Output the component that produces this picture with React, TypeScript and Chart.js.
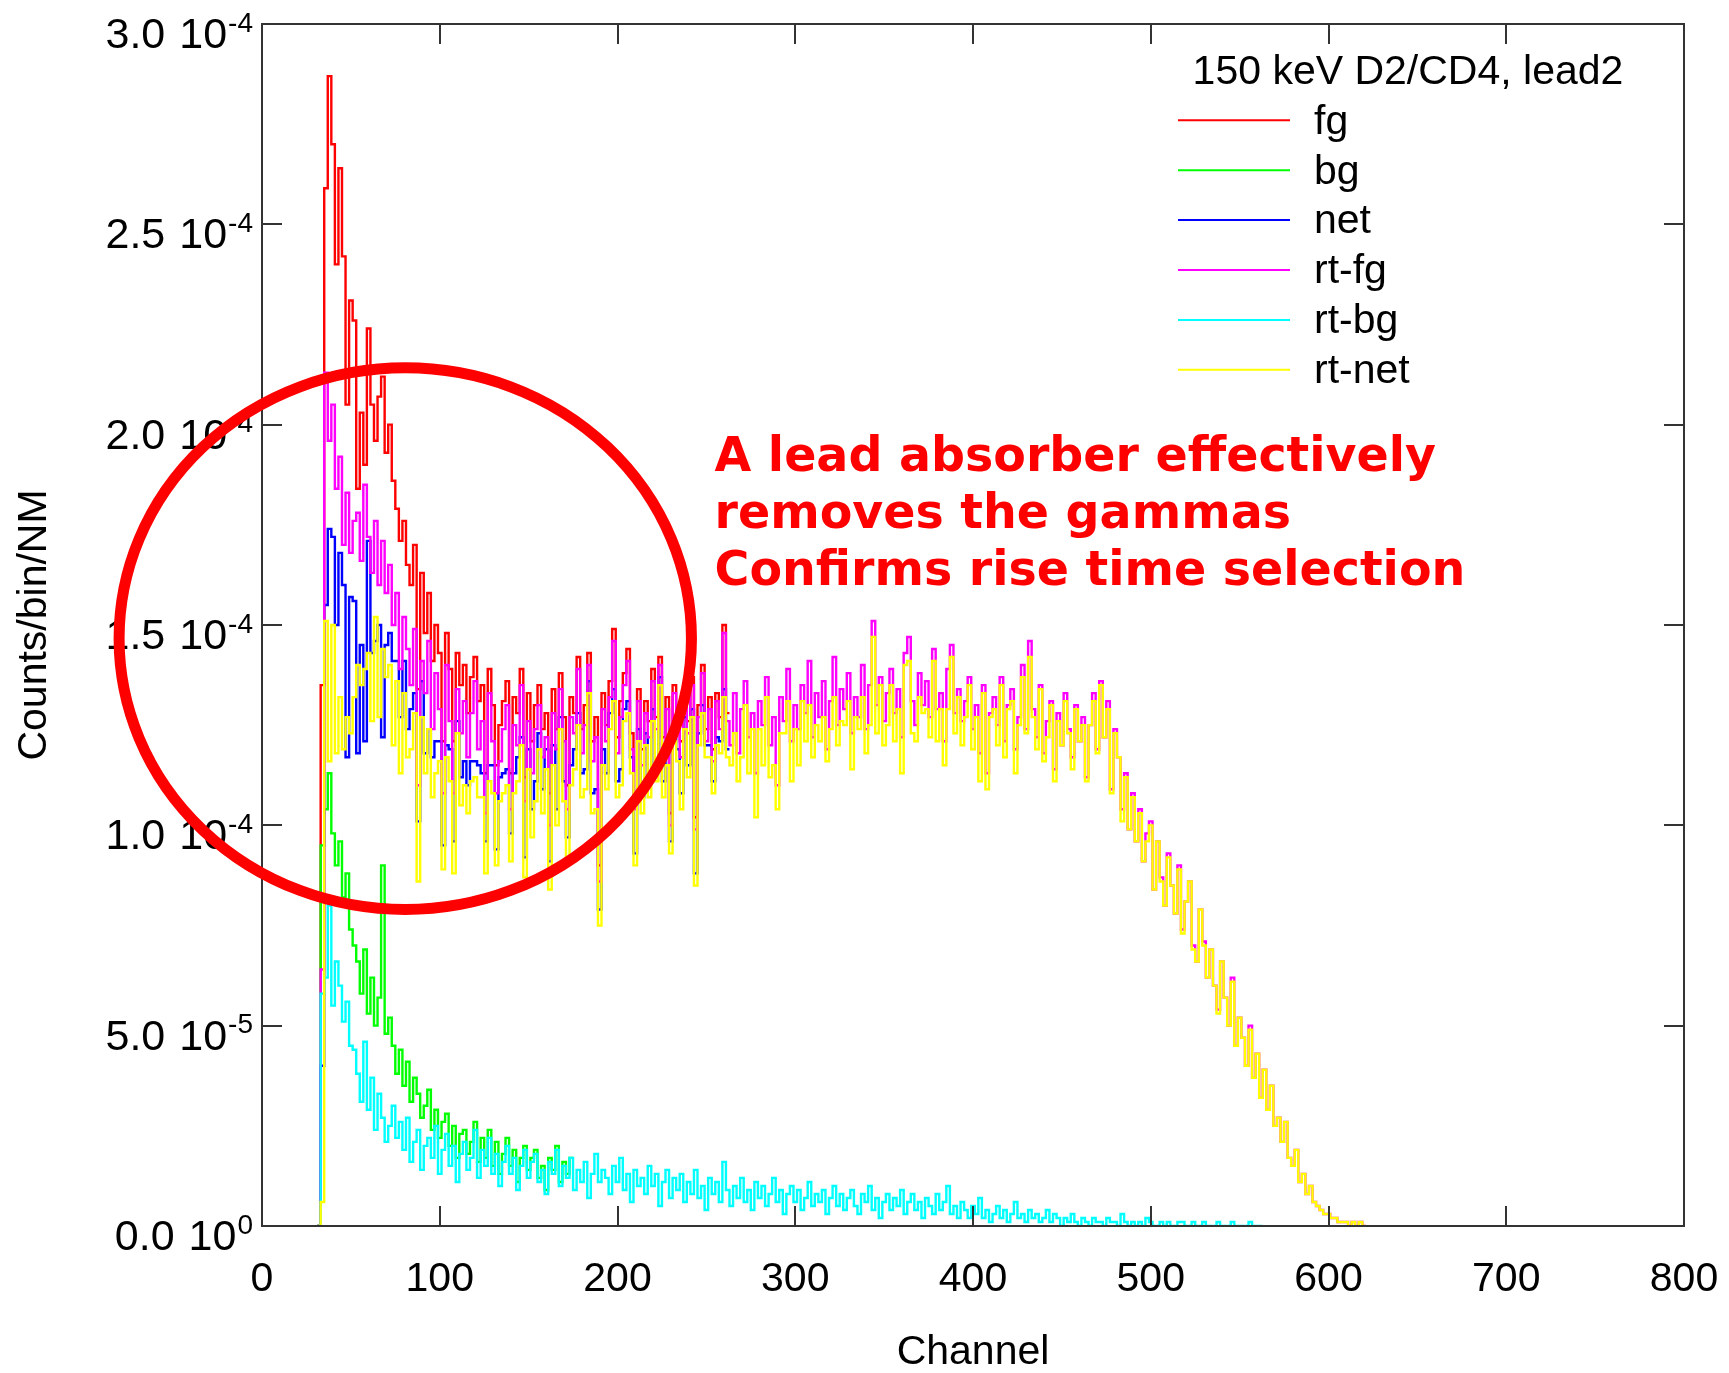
import { useEffect, useRef } from "react";
import { Chart, registerables } from "chart.js";

Chart.register(...registerables);

// Histogram binning (channels): first bin left edge and bin width
const BIN_START = 31;
const BIN_WIDTH = 2;
const UNIT = 1e-6; // values below are in units of 1e-6 counts/bin/NM

// fg (red)
const FG = [0,
  135, 259, 287, 270, 240, 264, 242, 205, 231, 226,
  184, 203, 190, 224, 205, 196, 207, 212, 193, 200,
  186, 179, 171, 176, 165, 160, 170, 134, 163, 148,
  158, 141, 150, 143, 121, 148, 139, 121, 143, 135,
  140, 128, 137, 142, 131, 135, 113, 139, 130, 115,
  125, 131, 136, 113, 132, 128, 139, 112, 133, 121,
  130, 135, 124, 128, 108, 134, 124, 138, 127, 110,
  132, 128, 142, 124, 130, 143, 121, 127, 90, 133,
  125, 136, 149, 122, 131, 138, 144, 123, 107, 134,
  119, 131, 126, 139, 127, 142, 122, 132, 103, 135,
  128, 121, 133, 126, 137, 102, 130, 140, 124, 132,
  119, 133, 127, 150, 128];

// bg (green)
const BG = [0,
  95, 104, 113, 98, 90, 96, 82, 88, 74, 70,
  66, 58, 69, 53, 62, 50, 57, 90, 48, 52,
  45, 38, 44, 35, 41, 31, 37, 33, 27, 30,
  34, 24, 29, 22, 26, 28, 20, 25, 17, 23,
  24, 18, 21, 26, 16, 22, 17, 24, 15, 21,
  13, 18, 22, 15, 19, 11, 17, 20, 14, 17,
  19, 12, 15, 9, 17, 14, 20, 11, 16, 13,
  17];

// net (blue)
const NET = [0,
  40, 155, 174, 172, 150, 168, 160, 117, 157, 156,
  118, 145, 121, 171, 143, 146, 150, 122, 145, 148,
  141, 141, 127, 141, 124, 129, 133, 101, 136, 118,
  124, 117, 121, 121, 95, 120, 119, 96, 126, 112,
  116, 110, 116, 116, 115, 113, 96, 115, 115, 94,
  112, 113, 114, 98, 113, 117, 122, 92, 119, 104,
  111, 123, 109, 119, 91, 120, 104, 127, 111, 97,
  115, 119, 128, 113, 114, 136, 108, 109, 79, 119,
  113, 128, 134, 111, 114, 129, 131, 117, 93, 124,
  107, 123, 111, 129, 114, 137, 111, 118, 96, 123,
  119, 108, 127, 115, 129, 88, 123, 130, 120, 120,
  111, 122, 121, 134, 119];

// rt-fg (magenta)
const RT_FG = [0,
  64, 213, 196, 205, 184, 192, 170, 183, 168, 176,
  178, 166, 185, 172, 163, 176, 160, 171, 158, 165,
  150, 158, 139, 152, 144, 135, 149, 110, 141, 133,
  146, 124, 138, 129, 108, 140, 126, 108, 134, 123,
  131, 117, 128, 136, 119, 126, 103, 133, 121, 108,
  116, 124, 130, 104, 125, 120, 135, 106, 126, 113,
  124, 130, 117, 122, 100, 128, 119, 134, 121, 104,
  127, 123, 139, 118, 125, 140, 116, 122, 86, 129,
  121, 132, 146, 118, 127, 135, 141, 119, 104, 131,
  115, 128, 122, 136, 124, 140, 118, 129, 100, 133,
  125, 117, 130, 123, 135, 99, 127, 138, 121, 129,
  116, 131, 124, 148, 126, 120, 133, 118, 129, 136,
  122, 128, 113, 131, 125, 137, 120, 127, 110, 132,
  126, 139, 121, 130, 124, 135, 128, 141, 122, 133,
  127, 136, 119, 131, 142, 125, 134, 129, 138, 123,
  132, 127, 140, 124, 135, 151, 130, 137, 126, 133,
  139, 128, 134, 122, 143, 147, 131, 125, 138, 130,
  136, 127, 144, 129, 133, 121, 139, 145, 128, 134,
  126, 131, 137, 124, 130, 118, 135, 113, 128, 132,
  125, 137, 121, 130, 134, 119, 127, 140, 124, 146,
  129, 122, 135, 118, 126, 131, 114, 128, 120, 133,
  124, 117, 130, 121, 127, 112, 125, 133, 119, 136,
  122, 131, 109, 124, 117, 104, 113, 99, 108, 96,
  104, 91, 98, 101, 84, 96, 87, 80, 93, 85,
  78, 90, 74, 81, 86, 70, 66, 79, 71, 62,
  69, 60, 54, 66, 57, 50, 62, 45, 52, 47,
  40, 50, 37, 43, 32, 39, 29, 35, 25, 27,
  21, 26, 17, 15, 19, 11, 13, 8, 10, 6,
  5, 4, 3, 3, 2, 2, 1, 1, 1, 0,
  1, 0, 1, 0];

// rt-bg (cyan)
const RT_BG = [0,
  58, 62, 80, 55, 66, 60, 51, 56, 45, 44,
  38, 31, 46, 29, 37, 24, 33, 27, 21, 25,
  30, 22, 26, 19, 27, 16, 21, 24, 14, 20,
  22, 17, 25, 13, 19, 23, 15, 20, 11, 18,
  21, 14, 17, 24, 12, 19, 15, 22, 13, 18,
  10, 16, 20, 13, 17, 9, 15, 19, 12, 16,
  18, 11, 14, 8, 16, 13, 19, 10, 15, 12,
  17, 9, 14, 11, 16, 7, 13, 18, 11, 14,
  12, 8, 15, 11, 17, 9, 13, 6, 14, 10,
  12, 8, 15, 10, 13, 5, 11, 14, 7, 12,
  9, 13, 6, 11, 8, 14, 7, 10, 4, 12,
  8, 11, 6, 16, 9, 5, 10, 7, 12, 6,
  9, 4, 11, 7, 10, 5, 8, 12, 6, 9,
  3, 8, 10, 6, 9, 4, 7, 11, 5, 8,
  6, 9, 3, 7, 10, 5, 8, 4, 7, 9,
  5, 3, 8, 6, 10, 4, 7, 2, 6, 8,
  4, 7, 5, 9, 3, 6, 8, 4, 6, 2,
  7, 5, 3, 8, 4, 6, 10, 3, 5, 2,
  6, 4, 2, 5, 3, 7, 2, 4, 1, 3,
  5, 2, 4, 1, 3, 6, 2, 3, 1, 4,
  2, 3, 1, 2, 4, 1, 3, 2, 0, 2,
  1, 3, 1, 0, 2, 1, 0, 2, 1, 1,
  0, 2, 1, 1, 0, 3, 1, 0, 1, 0,
  1, 0, 2, 1, 0, 0, 1, 0, 1, 0,
  0, 1, 1, 0, 0, 1, 0, 0, 1, 0,
  0, 0, 1, 0, 0, 0, 1, 0, 0, 0,
  0, 1, 0, 0, 0];

// rt-net (yellow)
const RT_NET = [0,
  6, 151, 116, 150, 118, 132, 119, 127, 123, 132,
  140, 135, 139, 143, 126, 152, 127, 144, 137, 140,
  120, 136, 113, 133, 117, 119, 128, 86, 127, 113,
  124, 107, 113, 116, 89, 117, 111, 88, 123, 105,
  110, 103, 111, 112, 107, 107, 88, 111, 108, 90,
  106, 108, 110, 91, 108, 111, 120, 87, 114, 97,
  106, 119, 103, 114, 84, 115, 100, 124, 106, 92,
  110, 114, 125, 107, 109, 133, 103, 104, 75, 115,
  109, 124, 131, 107, 110, 126, 128, 113, 90, 121,
  103, 120, 107, 126, 111, 135, 107, 115, 93, 121,
  116, 104, 124, 112, 127, 85, 120, 128, 117, 117,
  108, 120, 118, 132, 117, 115, 123, 111, 117, 130,
  113, 124, 102, 124, 115, 132, 112, 115, 104, 123,
  123, 131, 111, 124, 115, 131, 121, 130, 117, 125,
  121, 127, 116, 124, 132, 120, 126, 125, 131, 114,
  127, 124, 132, 118, 125, 147, 123, 135, 120, 125,
  135, 121, 129, 113, 140, 141, 123, 121, 132, 128,
  129, 122, 141, 121, 129, 115, 129, 142, 123, 132,
  120, 127, 135, 119, 127, 111, 133, 109, 127, 129,
  120, 135, 117, 129, 131, 113, 125, 137, 123, 142,
  127, 119, 134, 116, 122, 130, 111, 126, 120, 131,
  123, 114, 129, 121, 125, 111, 125, 131, 118, 135,
  122, 129, 108, 123, 117, 101, 112, 99, 107, 96,
  103, 91, 96, 100, 84, 96, 86, 80, 92, 85,
  78, 89, 73, 81, 86, 69, 66, 79, 70, 62,
  69, 60, 53, 66, 57, 50, 61, 45, 52, 47,
  40, 49, 37, 43, 32, 39, 29, 35, 25, 27,
  21, 26, 17, 15, 19, 11, 13, 8, 10, 6,
  5, 4, 3, 3, 2, 2, 1, 1, 1, 0,
  1, 0, 1, 0];

const SERIES_LABELS = ["fg", "bg", "net", "rt-fg", "rt-bg", "rt-net"];
const SERIES_COLORS = ["#ff0000", "#00ff00", "#0000ff", "#ff00ff", "#00ffff", "#ffff00"];
const SERIES_DATA = [FG, BG, NET, RT_FG, RT_BG, RT_NET];

const X_MIN = 0;
const X_MAX = 800;
const X_TICKS = [0, 100, 200, 300, 400, 500, 600, 700, 800];
const Y_TICK_VALUES = [0, 5e-5, 1e-4, 1.5e-4, 2e-4, 2.5e-4, 3e-4];
const Y_TICK_MANTISSA = ["0.0", "5.0", "1.0", "1.5", "2.0", "2.5", "3.0"];
const Y_TICK_EXPONENT = ["0", "-5", "-4", "-4", "-4", "-4", "-4"];

const X_TITLE = "Channel";
const Y_TITLE = "Counts/bin/NM";
const LEGEND_TITLE = "150 keV D2/CD4, lead2";
const NOTE_LINES = ["A lead absorber effectively", "removes the gammas", "Confirms rise time selection"];

// annotation anchors in data coordinates
const NOTE_CHANNEL = 254.6;
const NOTE_VALUE = 188.4e-6;
const CIRCLE_CHANNEL = 80.6;
const CIRCLE_VALUE = 146.6e-6;
const CIRCLE_R_CHANNEL = 161;
const CIRCLE_R_VALUE = 67.6e-6;

const SANS = "'Liberation Sans', Arial, sans-serif";

function toPoints(arr: number[]) {
  const pts = arr.map((v, i) => ({ x: BIN_START + i * BIN_WIDTH, y: v * UNIT }));
  pts.push({ x: BIN_START + arr.length * BIN_WIDTH, y: arr[arr.length - 1] * UNIT });
  return pts;
}

const overlayPlugin = {
  id: "overlay",
  afterDatasetsDraw(chart: any) {
    const { ctx, chartArea, scales } = chart;
    const { left, right, top, bottom } = chartArea;
    const xs = scales.x;
    const ys = scales.y;
    ctx.save();

    // frame + inward ticks
    ctx.strokeStyle = "#333333";
    ctx.lineWidth = 2;
    ctx.strokeRect(left, top, right - left, bottom - top);
    const TL = 20;
    ctx.beginPath();
    X_TICKS.forEach((t) => {
      const px = Math.round(xs.getPixelForValue(t));
      ctx.moveTo(px, bottom);
      ctx.lineTo(px, bottom - TL);
      ctx.moveTo(px, top);
      ctx.lineTo(px, top + TL);
    });
    Y_TICK_VALUES.forEach((v) => {
      const py = Math.round(ys.getPixelForValue(v));
      ctx.moveTo(left, py);
      ctx.lineTo(left + TL, py);
      ctx.moveTo(right, py);
      ctx.lineTo(right - TL, py);
    });
    ctx.stroke();

    // y tick labels with exponent
    ctx.fillStyle = "#000";
    ctx.textBaseline = "middle";
    ctx.textAlign = "right";
    Y_TICK_VALUES.forEach((v, i) => {
      const py = ys.getPixelForValue(v);
      const xr = left - 9;
      ctx.font = `28px ${SANS}`;
      ctx.fillText(Y_TICK_EXPONENT[i], xr, py);
      const ew = ctx.measureText(Y_TICK_EXPONENT[i]).width;
      ctx.font = `43px ${SANS}`;
      const tenRight = xr - ew - 1;
      ctx.fillText("10", tenRight, py + 12);
      const tw = ctx.measureText("10").width;
      ctx.fillText(Y_TICK_MANTISSA[i], tenRight - tw - 14, py + 12);
    });

    // legend
    ctx.font = `41px ${SANS}`;
    ctx.textAlign = "center";
    ctx.fillText(LEGEND_TITLE, right - 276, top + 48.3);
    chart.data.datasets.forEach((ds: any, i: number) => {
      const yy = top + 96.3 + i * 49.9;
      ctx.strokeStyle = ds.borderColor;
      ctx.lineWidth = 2;
      ctx.beginPath();
      ctx.moveTo(right - 506, yy);
      ctx.lineTo(right - 394, yy);
      ctx.stroke();
      ctx.textAlign = "left";
      ctx.fillStyle = "#000";
      ctx.fillText(ds.label, right - 370, yy + 2);
    });

    // red circle
    const cx = xs.getPixelForValue(CIRCLE_CHANNEL);
    const cy = ys.getPixelForValue(CIRCLE_VALUE);
    const rx = Math.abs(xs.getPixelForValue(CIRCLE_CHANNEL + CIRCLE_R_CHANNEL) - cx);
    const ry = Math.abs(ys.getPixelForValue(CIRCLE_VALUE + CIRCLE_R_VALUE) - cy);
    ctx.strokeStyle = "#ff0000";
    ctx.lineWidth = 11;
    ctx.beginPath();
    ctx.ellipse(cx, cy, rx, ry, 0, 0, Math.PI * 2);
    ctx.stroke();

    // note text
    ctx.fillStyle = "#ff0000";
    ctx.font = `bold 47.5px 'DejaVu Sans', Verdana, sans-serif`;
    ctx.textAlign = "left";
    ctx.textBaseline = "alphabetic";
    const tx = xs.getPixelForValue(NOTE_CHANNEL);
    const ty = ys.getPixelForValue(NOTE_VALUE);
    NOTE_LINES.forEach((line, i) => ctx.fillText(line, tx, ty + i * 56.7));

    ctx.restore();
  },
};

export default function App() {
  const ref = useRef<HTMLCanvasElement>(null);
  useEffect(() => {
    if (!ref.current) return;
    const order = [5, 4, 3, 2, 1, 0];
    const chart = new Chart(ref.current, {
      type: "line",
      data: {
        datasets: SERIES_DATA.map((arr, i) => ({
          label: SERIES_LABELS[i],
          data: toPoints(arr),
          borderColor: SERIES_COLORS[i],
          backgroundColor: SERIES_COLORS[i],
          borderWidth: 2.4,
          pointRadius: 0,
          stepped: true,
          fill: false,
          tension: 0,
          order: order[i],
        })),
      },
      options: {
        responsive: false,
        maintainAspectRatio: false,
        devicePixelRatio: 1,
        animation: false,
        events: [],
        layout: { padding: { top: 24, right: 45, bottom: 0, left: 0 } },
        plugins: { legend: { display: false }, tooltip: { enabled: false } },
        scales: {
          x: {
            type: "linear",
            min: X_MIN,
            max: X_MAX,
            grid: { display: false, drawTicks: false },
            border: { display: false },
            ticks: {
              stepSize: 100,
              color: "#000",
              font: { size: 41, family: SANS },
              padding: 29,
              maxRotation: 0,
              autoSkip: false,
            },
            title: {
              display: true,
              text: X_TITLE,
              color: "#000",
              font: { size: 41, family: SANS, lineHeight: 1 },
              padding: 0,
            },
            afterFit: (s: any) => {
              s.height = 147;
              s.paddingLeft = 0;
              s.paddingRight = 0;
            },
          },
          y: {
            type: "linear",
            min: 0,
            max: 3e-4,
            grid: { display: false, drawTicks: false },
            border: { display: false },
            ticks: { display: false, stepSize: 5e-5 },
            title: {
              display: true,
              text: Y_TITLE,
              color: "#000",
              font: { size: 41, family: SANS, lineHeight: 1 },
              padding: 14,
            },
            afterFit: (s: any) => {
              s.width = 262;
              s.paddingTop = 0;
              s.paddingBottom = 0;
            },
          },
        },
      },
      plugins: [overlayPlugin],
    } as any);
    return () => chart.destroy();
  }, []);

  return (
    <div style={{ position: "absolute", left: 0, top: 0, width: 1729, height: 1373, background: "#fff" }}>
      <canvas ref={ref} width={1729} height={1373} style={{ display: "block", width: 1729, height: 1373 }} />
    </div>
  );
}
